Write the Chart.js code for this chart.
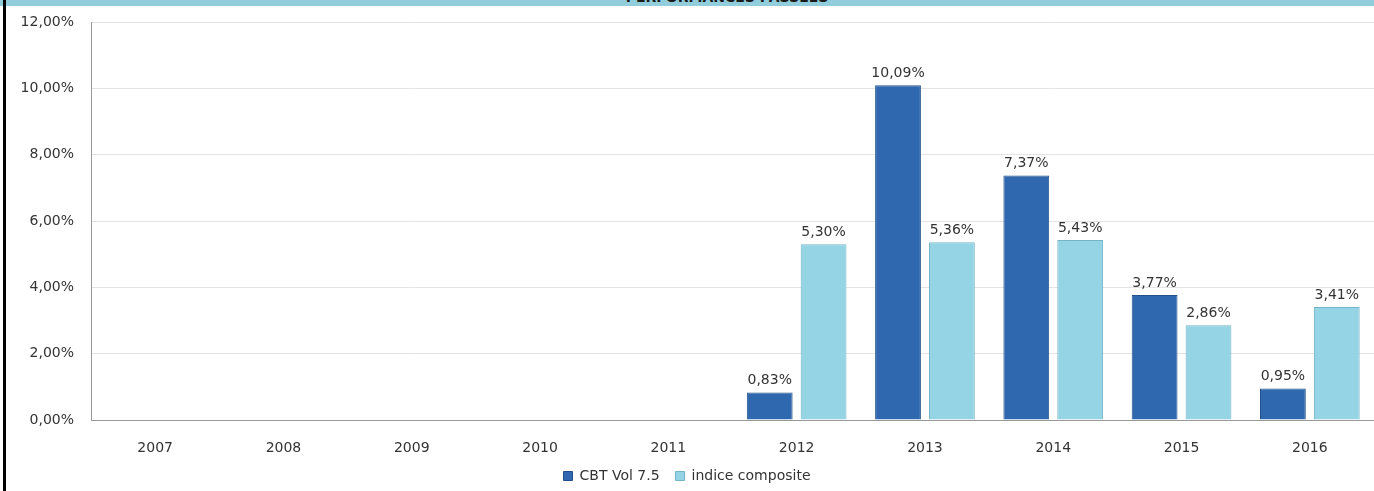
<!DOCTYPE html>
<html>
<head>
<meta charset="utf-8">
<script src="https://cdn.jsdelivr.net/npm/chart.js@4.4.1/dist/chart.umd.min.js"></script>
<style>
  body { margin: 0; background: #fff; }
  #wrap { position: relative; width: 1374px; height: 491px; overflow: hidden; }
  #band { position: absolute; left: 0; top: 0; width: 1374px; height: 6px; background: #92cddc; overflow: hidden; }
  #band span { position: absolute; left: 0; width: 1454px; text-align: center; top: -11px;
    font: bold 14px "DejaVu Sans", sans-serif; color: #1a1a1a; }
  #edge { position: absolute; left: 3px; top: 0; width: 3px; height: 491px; background: #000; }
  canvas { position: absolute; left: 0; top: 0; }
</style>
</head>
<body>
<div id="wrap">
  <canvas id="myChart" width="1374" height="491"></canvas>
  <div id="band"><span>PERFORMANCES PASSEES</span></div>
  <div id="edge"></div>
</div>
<script>
const years = ['2007', '2008', '2009', '2010', '2011', '2012', '2013', '2014', '2015', '2016'];
const cbtVol = [null, null, null, null, null, 0.83, 10.09, 7.37, 3.77, 0.95];
const indiceComposite = [null, null, null, null, null, 5.30, 5.36, 5.43, 2.86, 3.41];

const fmt = v => v.toFixed(2).replace('.', ',') + '%';

Chart.defaults.font.family = '"DejaVu Sans", sans-serif';
Chart.defaults.font.size = 14;
Chart.defaults.color = '#333333';

// write the value above each bar
const valueLabels = {
    id: 'valueLabels',
    afterDatasetsDraw(chart) {
        const c = chart.ctx;
        c.save();
        c.font = '14px "DejaVu Sans", sans-serif';
        c.fillStyle = '#333333';
        c.textAlign = 'center';
        c.textBaseline = 'bottom';
        chart.data.datasets.forEach((ds, i) => {
            chart.getDatasetMeta(i).data.forEach((bar, j) => {
                if (ds.data[j] == null) return;
                c.fillText(fmt(ds.data[j]), bar.x, bar.y - 5);
            });
        });
        c.restore();
    }
};

const ctx = document.getElementById('myChart');

new Chart(ctx, {
    type: 'bar',
    data: {
        labels: years,
        datasets: [{
            label: 'CBT Vol 7.5',
            data: cbtVol,
            backgroundColor: '#2f68ae',
            borderColor: '#24508a',
            borderWidth: 1,
            categoryPercentage: 0.84,
            barPercentage: 0.85
        },
        {
            label: 'indice composite',
            data: indiceComposite,
            backgroundColor: '#94d4e4',
            borderColor: '#72b3c6',
            borderWidth: 1,
            categoryPercentage: 0.84,
            barPercentage: 0.85
        }]
    },
    options: {
        responsive: false,
        animation: false,
        layout: {
            padding: { top: 22, right: 0, bottom: -2, left: 0 }
        },
        scales: {
            x: {
                grid: { display: false },
                border: { color: '#999999' },
                ticks: { padding: 12 },
                afterFit(scale) { scale.height = 33; }
            },
            y: {
                min: 0,
                max: 12,
                ticks: { stepSize: 2, padding: 17, callback: v => fmt(v) },
                grid: { color: '#e3e3e3', drawTicks: false },
                border: { color: '#999999' },
                afterFit(scale) {
                    scale.width = 91;
                    scale.paddingTop = 0;
                    scale.paddingBottom = 0;
                }
            }
        },
        plugins: {
            legend: {
                position: 'bottom',
                labels: { usePointStyle: true, pointStyle: 'rect', boxWidth: 9, boxHeight: 9, padding: 16 }
            },
            tooltip: { enabled: false }
        }
    },
    plugins: [valueLabels]
});
</script>
</body>
</html>
